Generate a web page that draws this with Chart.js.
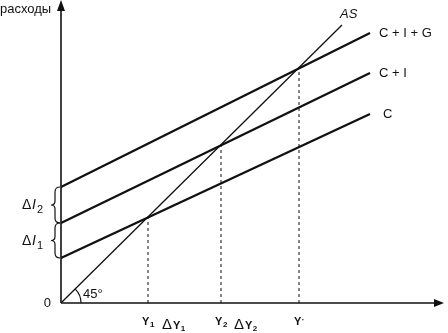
<!DOCTYPE html>
<html>
<head>
<meta charset="utf-8">
<script src="https://cdn.jsdelivr.net/npm/chart.js@4/dist/chart.umd.min.js"></script>
<style>
  html, body { margin: 0; padding: 0; background: #fff; }
  canvas { display: block; }
</style>
</head>
<body>
<canvas id="chart" width="448" height="333"></canvas>
<script>
// income (x) and expenditure (y), in chart units
const lineStartX = 0;
const lineEndX = 309;
const cLine = [45, 189];       // C
const ciLine = [80, 230];      // C + I
const cigLine = [116, 270];    // C + I + G
const asLine = [[0, 0], [281, 278]];

// equilibrium points where AS meets each spending line
const eqNames = ["1", "2", "·"];
const eqX = [87, 160, 238];
const eqY = [86, 158, 235];

// labels between equilibria
const deltaX = [115, 187];
const deltaSubs = ["1", "2"];

const lineNames = ["C", "C + I", "C + I + G"];

const FONT = "'Liberation Sans', Arial, sans-serif";
const INK = "#111";

function twoPoints(ys) {
    return [{x: lineStartX, y: ys[0]}, {x: lineEndX, y: ys[1]}];
}

let datasets = [
    {data: twoPoints(cLine), borderWidth: 2.3},
    {data: twoPoints(ciLine), borderWidth: 2.3},
    {data: twoPoints(cigLine), borderWidth: 2.3},
    {data: asLine.map(p => ({x: p[0], y: p[1]})), borderWidth: 1.3}
];
eqX.forEach(function(x, i) {
    datasets.push({
        data: [{x: x, y: 0}, {x: x, y: eqY[i]}],
        borderWidth: 1,
        borderDash: [3, 3]
    });
});
datasets.forEach(function(d) {
    d.showLine = true;
    d.pointRadius = 0;
    d.borderColor = INK;
    d.fill = false;
});

// text followed by a smaller, lowered subscript
function subText(ctx, x, y, main, mainFont, sub, subFont, align, drop) {
    ctx.font = mainFont;
    let w1 = ctx.measureText(main).width;
    ctx.font = subFont;
    let w2 = ctx.measureText(sub).width;
    let start = x;
    if (align == "center") start = x - (w1 + w2) / 2;
    ctx.textAlign = "left";
    ctx.textBaseline = "alphabetic";
    ctx.font = mainFont;
    ctx.fillText(main, start, y);
    ctx.font = subFont;
    ctx.fillText(sub, start + w1 + 0.5, y + drop);
}

const decorations = {
    id: "decorations",
    afterDatasetsDraw(chart) {
        const ctx = chart.ctx;
        const xs = chart.scales.x, ys = chart.scales.y;
        const px = v => xs.getPixelForValue(v);
        const py = v => ys.getPixelForValue(v);
        const x0 = px(0), y0 = py(0);
        ctx.save();
        ctx.strokeStyle = INK;
        ctx.fillStyle = INK;

        // axes with arrows
        ctx.lineWidth = 1.6;
        ctx.beginPath();
        ctx.moveTo(x0, y0);
        ctx.lineTo(x0, 4);
        ctx.moveTo(x0, y0);
        ctx.lineTo(chart.width - 8, y0);
        ctx.stroke();
        ctx.beginPath();
        ctx.moveTo(x0, 0);
        ctx.lineTo(x0 - 4, 11);
        ctx.lineTo(x0 + 4, 11);
        ctx.closePath();
        ctx.fill();
        ctx.beginPath();
        ctx.moveTo(chart.width - 4, y0);
        ctx.lineTo(chart.width - 14, y0 - 4);
        ctx.lineTo(chart.width - 14, y0 + 4);
        ctx.closePath();
        ctx.fill();

        // 45 degree arc
        ctx.lineWidth = 1.2;
        ctx.beginPath();
        ctx.arc(x0, y0, 20, -Math.PI / 4, 0);
        ctx.stroke();

        ctx.textBaseline = "alphabetic";
        ctx.textAlign = "left";
        ctx.font = "13px " + FONT;
        ctx.fillText("45°", x0 + 22, y0 - 5);
        ctx.textAlign = "right";
        ctx.fillText("0", x0 - 10, y0 + 4);
        ctx.textAlign = "left";
        ctx.fillText("расходы", 0, 13);

        // line names
        ctx.font = "13px " + FONT;
        ctx.textBaseline = "middle";
        [cLine, ciLine, cigLine].forEach(function(l, i) {
            let tx = px(lineEndX) + 9;
            if (i == 0) tx += 4;
            ctx.fillText(lineNames[i], tx, py(l[1]));
        });
        ctx.font = "italic 13px " + FONT;
        ctx.fillText("AS", px(asLine[1][0]) - 2, py(asLine[1][1]) - 11);

        // braces for ΔI1 and ΔI2
        ctx.lineWidth = 1.2;
        function brace(yTop, yBot) {
            let t = py(yTop), b = py(yBot), m = (t + b) / 2;
            let xr = x0 - 1, xl = x0 - 6;
            ctx.beginPath();
            ctx.moveTo(xr, t);
            ctx.quadraticCurveTo(xl, t, xl, t + 5);
            ctx.lineTo(xl, m - 4);
            ctx.quadraticCurveTo(xl, m, xl - 4, m);
            ctx.quadraticCurveTo(xl, m, xl, m + 4);
            ctx.lineTo(xl, b - 5);
            ctx.quadraticCurveTo(xl, b, xr, b);
            ctx.stroke();
        }
        brace(cigLine[0], ciLine[0]);
        brace(ciLine[0], cLine[0]);
        let m2 = (py(cigLine[0]) + py(ciLine[0])) / 2;
        let m1 = (py(ciLine[0]) + py(cLine[0])) / 2;
        [[m2, "2"], [m1, "1"]].forEach(function(p) {
            ctx.textAlign = "left";
            ctx.textBaseline = "alphabetic";
            ctx.font = "14px " + FONT;
            ctx.fillText("Δ", 22, p[0] + 4);
            ctx.font = "italic 14px " + FONT;
            ctx.fillText("I", 32, p[0] + 4);
            ctx.font = "11px " + FONT;
            ctx.fillText(p[1], 37, p[0] + 8);
        });

        // x axis labels
        eqX.forEach(function(x, i) {
            let drop = eqNames[i] == "·" ? -3 : 2;
            subText(ctx, px(x), y0 + 22, "Y", "bold 11px " + FONT,
                    eqNames[i], "bold 8px " + FONT, "center", drop);
        });
        deltaX.forEach(function(x, i) {
            ctx.font = "15px " + FONT;
            ctx.textAlign = "right";
            ctx.textBaseline = "alphabetic";
            ctx.fillText("Δ", px(x) - 4, y0 + 26);
            subText(ctx, px(x) - 3, y0 + 26, "Y", "bold 11px " + FONT,
                    deltaSubs[i], "bold 8px " + FONT, "left", 2);
        });
        ctx.restore();
    }
};

new Chart(document.getElementById("chart"), {
    type: "scatter",
    data: {datasets: datasets},
    options: {
        responsive: false,
        animation: false,
        layout: {padding: {left: 61, right: 2, top: 0, bottom: 30}},
        plugins: {legend: {display: false}, tooltip: {enabled: false}},
        scales: {
            x: {type: "linear", min: 0, max: 385, display: false},
            y: {type: "linear", min: 0, max: 303, display: false}
        }
    },
    plugins: [decorations]
});
</script>
</body>
</html>
